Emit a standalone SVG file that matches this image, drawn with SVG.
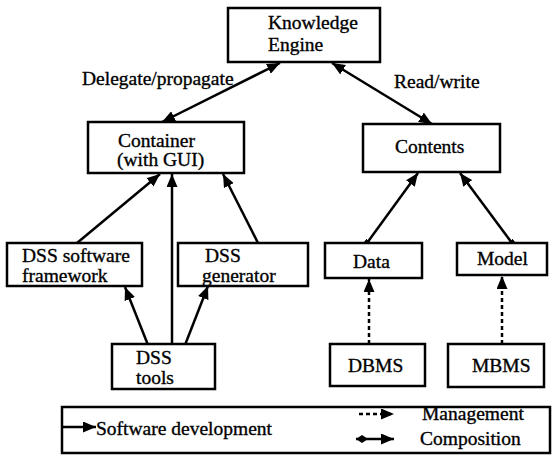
<svg xmlns="http://www.w3.org/2000/svg" width="552" height="456" viewBox="0 0 552 456">
  <style>
    .box { fill: #fff; stroke: #000; stroke-width: 2.5; }
    .lbl { font-family: 'Liberation Serif', 'Times New Roman', serif; font-size: 19.5px; fill: #000; stroke: #000; stroke-width: 0.35; }
    .ln { stroke: #000; stroke-width: 2.5; fill: none; }
    .dash { stroke-dasharray: 4 3; }
  </style>
  <defs>
    <!-- filled arrowhead, reversed at the start for two-way links -->
    <marker id="arrow" markerUnits="userSpaceOnUse" markerWidth="13" markerHeight="11" refX="13" refY="5.5" orient="auto-start-reverse">
      <path d="M0,0 L13,5.5 L0,11 z" fill="#000"/>
    </marker>
    <marker id="sq" markerUnits="userSpaceOnUse" markerWidth="6" markerHeight="6" refX="3" refY="3" orient="auto">
      <rect x="0" y="0" width="6" height="6" fill="#000"/>
    </marker>
    <marker id="diamond" markerUnits="userSpaceOnUse" markerWidth="12" markerHeight="8" refX="0" refY="4" orient="auto">
      <path d="M0,4 L6,0 L12,4 L6,8 z" fill="#000"/>
    </marker>
  </defs>

  <!-- connectors -->
  <g id="connectors">
    <line class="ln" x1="162" y1="122" x2="280" y2="63" marker-start="url(#arrow)" marker-end="url(#arrow)"/>
    <line class="ln" x1="432" y1="124" x2="332" y2="63" marker-start="url(#arrow)" marker-end="url(#arrow)"/>
    <line class="ln" x1="77" y1="243" x2="160" y2="174" marker-end="url(#arrow)"/>
    <line class="ln" x1="172" y1="345" x2="172" y2="174" marker-end="url(#arrow)"/>
    <line class="ln" x1="258" y1="243" x2="223" y2="174" marker-end="url(#arrow)"/>
    <line class="ln" x1="148" y1="345" x2="125" y2="287" marker-end="url(#arrow)"/>
    <line class="ln" x1="185" y1="345" x2="208" y2="286" marker-end="url(#arrow)"/>
    <line class="ln" x1="367" y1="243" x2="418" y2="173" marker-start="url(#sq)" marker-end="url(#arrow)"/>
    <line class="ln" x1="512" y1="243" x2="460" y2="173" marker-start="url(#sq)" marker-end="url(#arrow)"/>
    <line class="ln dash" x1="369" y1="344" x2="369" y2="279" marker-end="url(#arrow)"/>
    <line class="ln dash" x1="502" y1="344" x2="502" y2="276" marker-end="url(#arrow)"/>
  </g>

  <g id="knowledge-engine">
    <rect class="box" x="228" y="8" width="152" height="54"/>
    <text class="lbl" x="268" y="29">Knowledge</text>
    <text class="lbl" x="268" y="51">Engine</text>
  </g>
  <text class="lbl" x="82" y="85">Delegate/propagate</text>
  <text class="lbl" x="394" y="88">Read/write</text>

  <g id="container">
    <rect class="box" x="88" y="122" width="156" height="51"/>
    <text class="lbl" x="118" y="147">Container</text>
    <text class="lbl" x="117" y="166">(with GUI)</text>
  </g>

  <g id="contents">
    <rect class="box" x="363" y="124" width="137" height="48"/>
    <text class="lbl" x="395" y="153">Contents</text>
  </g>

  <g id="dss-framework">
    <rect class="box" x="7" y="243" width="135" height="43"/>
    <text class="lbl" x="22" y="262">DSS software</text>
    <text class="lbl" x="22" y="282">framework</text>
  </g>

  <g id="dss-generator">
    <rect class="box" x="178" y="243" width="130" height="43"/>
    <text class="lbl" x="205" y="262">DSS</text>
    <text class="lbl" x="202" y="282">generator</text>
  </g>

  <g id="data">
    <rect class="box" x="325" y="243" width="97" height="35"/>
    <text class="lbl" x="353" y="268">Data</text>
  </g>

  <g id="model">
    <rect class="box" x="457" y="243" width="90" height="32"/>
    <text class="lbl" x="477" y="265">Model</text>
  </g>

  <g id="dss-tools">
    <rect class="box" x="112" y="344" width="103" height="45"/>
    <text class="lbl" x="136" y="364">DSS</text>
    <text class="lbl" x="136" y="384">tools</text>
  </g>

  <g id="dbms">
    <rect class="box" x="330" y="344" width="95" height="42"/>
    <text class="lbl" x="348" y="372">DBMS</text>
  </g>

  <g id="mbms">
    <rect class="box" x="448" y="344" width="96" height="43"/>
    <text class="lbl" x="472" y="372">MBMS</text>
  </g>

  <g id="legend">
    <rect class="box" x="62" y="407" width="488" height="46"/>
    <line class="ln" x1="62" y1="427" x2="96" y2="427" marker-end="url(#arrow)"/>
    <text class="lbl" x="96" y="435">Software development</text>
    <line class="ln dash" x1="359" y1="414" x2="394" y2="414" marker-end="url(#arrow)"/>
    <line class="ln" x1="356" y1="439" x2="394" y2="439" marker-start="url(#diamond)" marker-end="url(#arrow)"/>
    <text class="lbl" x="422" y="420">Management</text>
    <text class="lbl" x="420" y="445">Composition</text>
  </g>
</svg>
